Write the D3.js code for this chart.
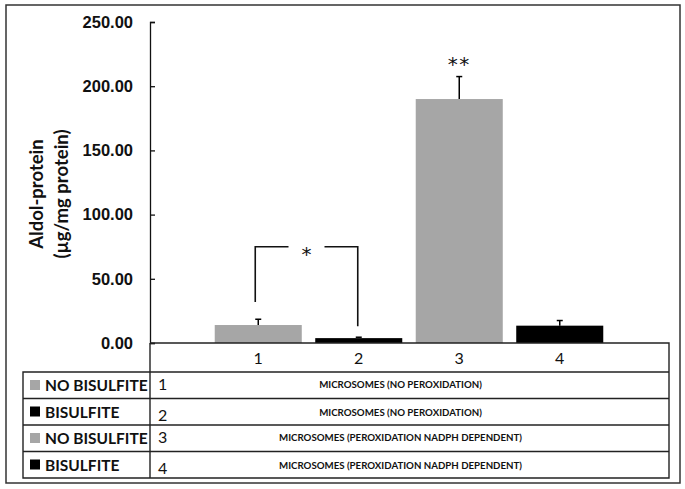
<!DOCTYPE html>
<html>
<head>
<meta charset="utf-8">
<script src="https://cdn.jsdelivr.net/npm/d3@7"></script>
<style>
  body { margin: 0; background: #fff; }
  svg { font-family: Lato, "Open Sans", sans-serif; }
</style>
</head>
<body>
<svg id="chart"></svg>
<script>
let categories = ["1", "2", "3", "4"];
let values = [14, 3.8, 190, 13.5];
let errors = [4.5, 0.7, 17.5, 4];
let groups = ["NO BISULFITE", "BISULFITE", "NO BISULFITE", "BISULFITE"];
let descriptions = [
  "MICROSOMES (NO PEROXIDATION)",
  "MICROSOMES (NO PEROXIDATION)",
  "MICROSOMES (PEROXIDATION NADPH DEPENDENT)",
  "MICROSOMES (PEROXIDATION NADPH DEPENDENT)"
];
let yTicks = [0, 50, 100, 150, 200, 250];
let stars = [{ cat: "3", value: 221, label: "**" }];
let brackets = [{ from: "1", to: "2", top: 75, left: 32, right: 13, label: "*" }];

let width = 685;
let height = 489;
let grey = "#a6a6a6";
let colour = function(g) { return g == "BISULFITE" ? "#000" : grey; };

let svg = d3.select("#chart")
  .attr("width", width)
  .attr("height", height);

// outer frame
svg.append("rect")
  .attr("x", 6).attr("y", 5)
  .attr("width", 674).attr("height", 478)
  .attr("fill", "none")
  .attr("stroke", "#333")
  .attr("stroke-width", 1.5);

let x = d3.scaleBand()
  .domain(categories)
  .range([208, 610])
  .paddingInner(0.134)
  .paddingOuter(0.067);

let y = d3.scaleLinear()
  .domain([0, 250])
  .range([343, 22]);

// y axis
let yAxis = d3.axisLeft(y)
  .tickValues(yTicks)
  .tickFormat(d3.format(".2f"))
  .tickSize(-5)
  .tickSizeOuter(-5)
  .tickPadding(17);

let ya = svg.append("g")
  .attr("transform", "translate(150,0)")
  .call(yAxis);
ya.select(".domain").attr("stroke", "#111").attr("stroke-width", 1.3);
ya.selectAll(".tick line").attr("stroke", "#111").attr("stroke-width", 1.3);
ya.selectAll(".tick text")
  .attr("font-size", 16.5)
  .attr("font-weight", "bold")
  .attr("fill", "#111");

// y title
let yt = svg.append("text")
  .attr("transform", "translate(50,194) rotate(-90)")
  .attr("text-anchor", "middle")
  .attr("font-size", 18.5)
  .attr("font-weight", "bold")
  .attr("fill", "#111");
yt.append("tspan").attr("x", 0).attr("y", -7).text("Aldol-protein");
yt.append("tspan").attr("x", 0).attr("y", 18).text("(µg/mg protein)");

// bars
svg.selectAll("rect.bar")
  .data(categories)
  .enter().append("rect")
  .attr("class", "bar")
  .attr("x", d => x(d))
  .attr("width", x.bandwidth())
  .attr("y", (d, i) => y(values[i]))
  .attr("height", (d, i) => y(0) - y(values[i]))
  .attr("fill", (d, i) => colour(groups[i]));

// error bars (upper only)
let eb = svg.selectAll("g.err")
  .data(categories)
  .enter().append("g")
  .attr("class", "err");
eb.append("line")
  .attr("x1", d => x(d) + x.bandwidth() / 2)
  .attr("x2", d => x(d) + x.bandwidth() / 2)
  .attr("y1", (d, i) => y(values[i]))
  .attr("y2", (d, i) => y(values[i] + errors[i]))
  .attr("stroke", "#000")
  .attr("stroke-width", 1.5);
eb.append("line")
  .attr("x1", d => x(d) + x.bandwidth() / 2 - 3)
  .attr("x2", d => x(d) + x.bandwidth() / 2 + 3)
  .attr("y1", (d, i) => y(values[i] + errors[i]))
  .attr("y2", (d, i) => y(values[i] + errors[i]))
  .attr("stroke", "#000")
  .attr("stroke-width", 1.5);

// significance stars
svg.selectAll("text.star")
  .data(stars)
  .enter().append("text")
  .attr("class", "star")
  .attr("x", d => x(d.cat) + x.bandwidth() / 2)
  .attr("y", d => y(d.value) + 12)
  .attr("text-anchor", "middle")
  .attr("font-family", "DejaVu Sans")
  .attr("font-size", 20)
  .attr("letter-spacing", 1.5)
  .attr("fill", "#111")
  .text(d => d.label);

brackets.forEach(function(b) {
  let x1 = x(b.from) + x.bandwidth() / 2 - 3;
  let x2 = x(b.to) + x.bandwidth() / 2 - 1;
  let mid = (x1 + x2) / 2;
  let path = d3.path();
  path.moveTo(x1, y(b.left));
  path.lineTo(x1, y(b.top));
  path.lineTo(mid - 18, y(b.top));
  path.moveTo(mid + 18, y(b.top));
  path.lineTo(x2, y(b.top));
  path.lineTo(x2, y(b.right));
  svg.append("path")
    .attr("d", path.toString())
    .attr("fill", "none")
    .attr("stroke", "#111")
    .attr("stroke-width", 1.6);
  svg.append("text")
    .attr("x", mid)
    .attr("y", y(b.top) + 14)
    .attr("text-anchor", "middle")
    .attr("font-family", "DejaVu Sans")
    .attr("font-size", 20)
    .attr("fill", "#111")
    .text(b.label);
});

// data table
let tLeft = 23, tSplit = 150, tRight = 669;
let rowTop = 343, catBottom = 372;
let rows = d3.scaleBand()
  .domain(categories)
  .range([catBottom, 478]);

let grid = svg.append("g")
  .attr("stroke", "#222")
  .attr("stroke-width", 1.4)
  .attr("fill", "none");
grid.append("path")
  .attr("d", `M${tSplit},${rowTop}H${tRight}V478H${tLeft}V${catBottom}H${tRight}M${tSplit},${rowTop}V478`);
grid.selectAll("line.row")
  .data(categories.slice(1))
  .enter().append("line")
  .attr("x1", tLeft).attr("x2", tRight)
  .attr("y1", d => rows(d)).attr("y2", d => rows(d));

// category numbers
svg.selectAll("text.cat")
  .data(categories)
  .enter().append("text")
  .attr("class", "cat")
  .attr("x", d => x(d) + x.bandwidth() / 2)
  .attr("y", 364)
  .attr("text-anchor", "middle")
  .attr("font-size", 16)
  .attr("fill", "#111")
  .text(d => d);

let rowG = svg.selectAll("g.trow")
  .data(categories)
  .enter().append("g")
  .attr("class", "trow")
  .attr("transform", d => `translate(0,${rows(d)})`);

rowG.append("rect")
  .attr("x", 30).attr("y", 8)
  .attr("width", 10).attr("height", 10)
  .attr("fill", (d, i) => colour(groups[i]));
rowG.append("text")
  .attr("x", 45).attr("y", 19)
  .attr("font-size", 15.5)
  .attr("font-weight", "bold")
  .attr("fill", "#111")
  .text((d, i) => groups[i]);
rowG.append("text")
  .attr("x", 158)
  .attr("y", (d, i) => i % 2 == 0 ? 18 : 22)
  .attr("font-size", 16)
  .attr("fill", "#111")
  .text(d => d);
rowG.append("text")
  .attr("x", (tSplit + tRight) / 2 - 9)
  .attr("y", (d, i) => i % 2 == 0 ? 16 : 17)
  .attr("text-anchor", "middle")
  .attr("font-size", 9.7)
  .attr("font-weight", "bold")
  .attr("fill", "#111")
  .text((d, i) => descriptions[i]);
</script>
</body>
</html>
